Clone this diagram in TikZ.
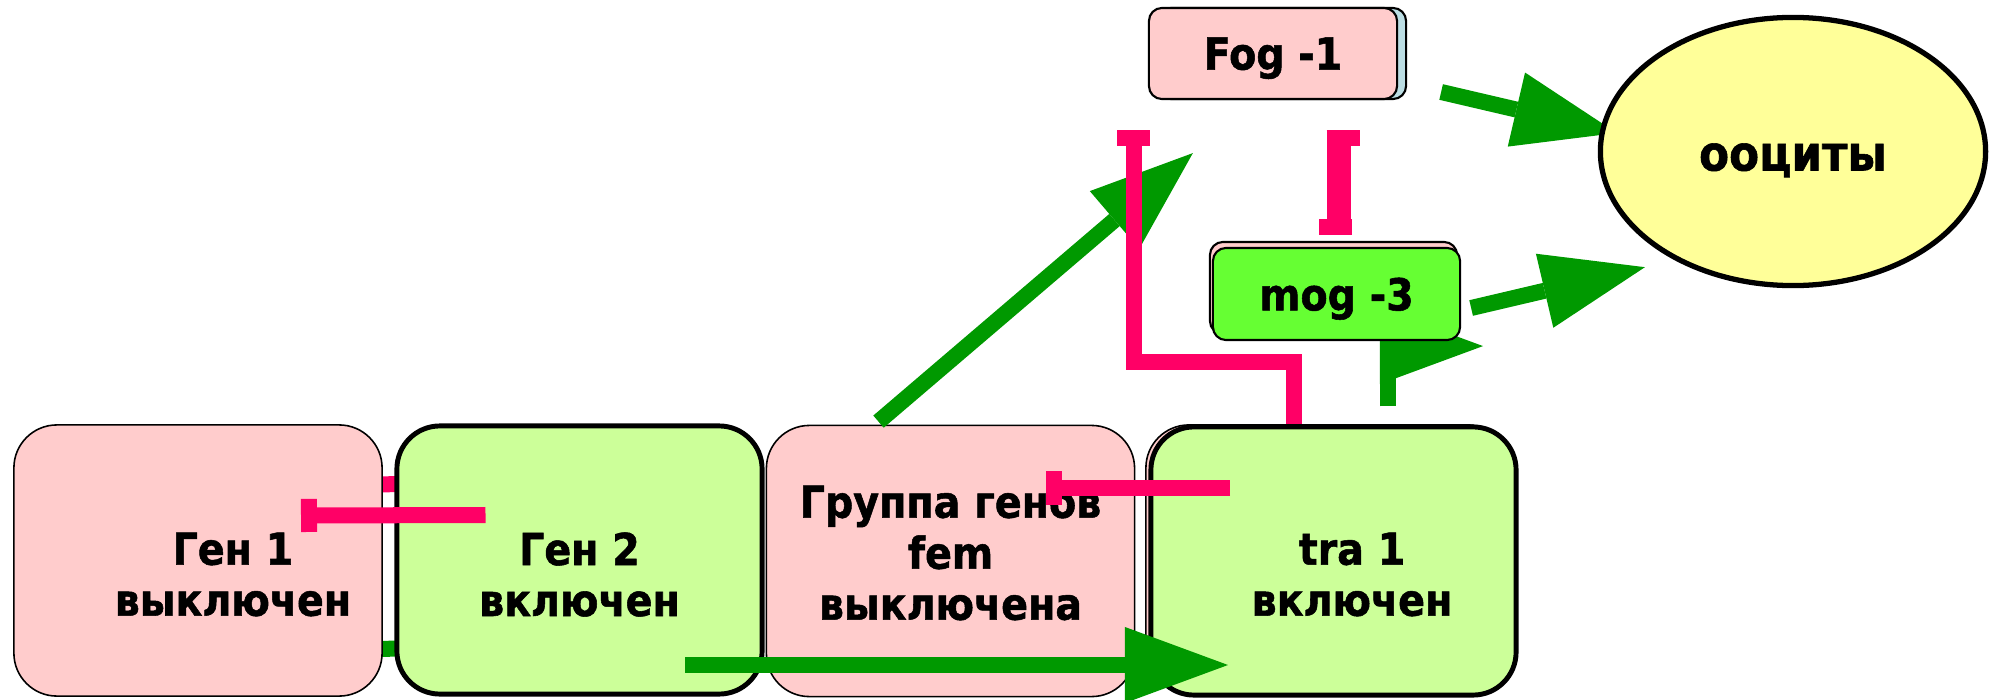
\documentclass[tikz,border=0pt]{standalone}
\usepackage{fontspec}
\setmainfont{DejaVu Sans}[FakeStretch=0.9, BoldFeatures={FakeBold=1.2}]
\usetikzlibrary{arrows.meta,shapes.geometric,shadows,calc}

\definecolor{offpink}{HTML}{FFCCCC}
\definecolor{onlime}{HTML}{CCFF99}
\definecolor{moggreen}{HTML}{66FF33}
\definecolor{oocyellow}{HTML}{FFFF99}
\definecolor{actgreen}{HTML}{009900}
\definecolor{inhpink}{HTML}{FF0066}
\definecolor{fogshade}{HTML}{BBDDE3}

\pgfdeclarelayer{back}
\pgfsetlayers{back,main}

\newcommand{\genfont}{\fontsize{12.5pt}{14.5pt}\selectfont\bfseries}

\tikzset{
    genbox/.style={draw, rounded corners=0.43cm, minimum width=3.68cm,
        minimum height=2.71cm, inner sep=0pt},
    offbox/.style={genbox, fill=offpink, line width=0.45pt},
    onbox/.style={genbox, fill=onlime, line width=1.4pt,
        minimum width=3.65cm, minimum height=2.68cm},
    smallbox/.style={draw, rounded corners=0.13cm, line width=0.6pt,
        minimum width=2.48cm, minimum height=0.91cm, inner sep=0pt,
        text depth=0pt, font=\genfont},
    genlabel/.style={align=center, font=\genfont, inner sep=0pt},
    act/.style={draw=actgreen, line width=0.16cm,
        -{Triangle[length=1.03cm,width=0.76cm,line width=0pt]}},
    inhib/.style={draw=inhpink, line width=0.16cm, -{Bar[width=0.33cm]}},
}

\begin{document}
\begin{tikzpicture}[x=0.01cm, y=-0.01cm]
    \useasboundingbox (0,0) rectangle (1993,700);

    % genes in a row
    \node[offbox] (gen1) at (198,560.5) {};
    \node[onbox] (gen2) at (579.5,560) {};
    \node[offbox] (fem) at (950.5,561) {};
    \node[onbox, general shadow={fill=offpink, draw, line width=0.45pt,
        shadow xshift=-0.05cm, shadow yshift=0.02cm}] (tra1) at (1333.5,561) {};
    \node[genlabel] (gen1txt) at (233,574.5) {Ген 1\\выключен};
    \node[genlabel] (gen2txt) at (579.5,574.5) {Ген 2\\включен};
    \node[genlabel] (femtxt) at (950.5,553) {Группа генов\\fem\\выключена};
    \node[genlabel] (tra1txt) at (1352,574.5) {tra 1\\включен};

    % upper part
    \node[smallbox, fill=offpink, general shadow={fill=fogshade, draw,
        line width=0.6pt, shadow xshift=0.09cm}] (fog) at (1273,53.5) {Fog -1};
    \node[smallbox, fill=moggreen, minimum width=2.47cm, minimum height=0.92cm,
        general shadow={fill=offpink, draw, line width=0.6pt,
        shadow xshift=-0.03cm, shadow yshift=0.06cm}] (mog) at (1336.5,294) {mog -3};
    \node[ellipse, draw, fill=oocyellow, line width=1.5pt, minimum width=3.85cm,
        minimum height=2.68cm, inner sep=0pt,
        font=\fontsize{13.8pt}{16pt}\selectfont\bfseries,
        text height=0.38cm, text depth=0pt] (ooc) at (1793,151.5) {ооциты};

    % hidden parts
    \begin{pgfonlayer}{back}
        \draw[inhpink, line width=0.16cm] ($(gen1.east)+(-20,-76)$) -- ($(gen2.west)+(20,-76)$);
        \draw[actgreen, line width=0.16cm] ($(gen1.east)+(-20,88.5)$) -- ($(gen2.west)+(20,88.5)$);
        \draw[act] ($(tra1.north)+(54.5,-18)$) |- ($(mog.south)+(146.5,5)$);
        \draw[act] ($(fog.east)+(43,38.5)$) -- ($(ooc.west)+(19,-18.5)$);
    \end{pgfonlayer}

    % activation
    \draw[act] ($(gen2.center)+(105.5,105)$) -- ($(tra1.center)+(-105.5,104)$);
    \draw[act] ($(fem.north)+(-72,-3)$) -- ($(fog.south west)+(45,53)$);
    \draw[act] ($(mog.east)+(10,14)$) -- ($(ooc.south west)+(-10,19)$);
    % repression
    \draw[inhib] ($(gen2.center)+(-94,-45)$) -- ($(gen1.center)+(103,-45)$);
    \draw[inhib] ($(tra1.center)+(-103.5,-73)$) -- ($(fem.center)+(95.5,-73)$);
    \draw[inhib] ($(tra1.north)+(-39.5,0)$) -- ++(0,-62) -| ($(fog.south west)+(-14,30)$);
    \draw[inhib] ($(mog.north)+(6.5,-12)$) -- ($(fog.south)+(70,30)$);
    \draw[inhib] ($(fog.south)+(62,38)$) -- ($(mog.north)+(-1.5,-12)$);
\end{tikzpicture}
\end{document}
